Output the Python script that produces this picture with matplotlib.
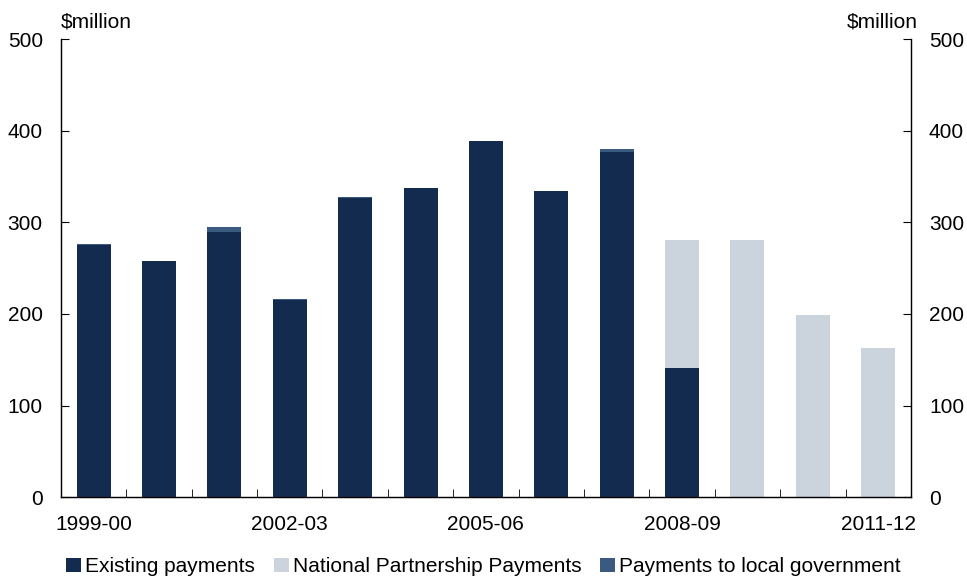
import numpy as np
import matplotlib.pyplot as plt

plt.rcParams['font.family'] = ['Liberation Sans', 'DejaVu Sans']

# data ($million)
years = ['1999-00', '2000-01', '2001-02', '2002-03', '2003-04', '2004-05', '2005-06',
         '2006-07', '2007-08', '2008-09', '2009-10', '2010-11', '2011-12']
existing = [275, 258, 289, 215, 327, 338, 389, 334, 377, 141, 0, 0, 0]
national = [0, 0, 0, 0, 0, 0, 0, 0, 0, 140, 281, 199, 163]
local_gov = [1, 0, 6, 1, 1, 0, 0, 0, 3, 0, 0, 0, 0]

c_exist = '#142B50'
c_np = '#CBD3DD'
c_local = '#3A5A80'

x = np.arange(len(years))
existing = np.array(existing)
national = np.array(national)
local_gov = np.array(local_gov)

fig = plt.figure(figsize=(9.67, 5.76), dpi=100)
ax = fig.add_axes([0.063, 0.137, 0.879, 0.795])

w = 0.52
ax.bar(x, existing, w, color=c_exist, label='Existing payments')
ax.bar(x, national, w, bottom=existing, color=c_np, label='National Partnership Payments')
ax.bar(x, local_gov, w, bottom=existing + national, color=c_local, label='Payments to local government')

ax.set_xlim(-0.5, 12.5)
ax.set_ylim(0, 500)
ax.set_yticks(np.arange(0, 501, 100))
ax.set_xticks(x[::3])
ax.set_xticklabels(years[::3])
ax.set_xticks(np.arange(-0.5, 12.6, 1), minor=True)

ax.spines['top'].set_visible(False)
for s in ['left', 'right', 'bottom']:
    ax.spines[s].set_color('#222222')
    ax.spines[s].set_linewidth(1)

ax.tick_params(axis='y', direction='in', length=6, labelsize=15, left=True, right=False, pad=13)
ax.tick_params(axis='x', which='major', length=0, labelsize=15, pad=13)
ax.tick_params(axis='x', which='minor', direction='in', length=6)

ax2 = ax.twinx()
ax2.set_ylim(0, 500)
ax2.set_yticks(np.arange(0, 501, 100))
ax2.tick_params(axis='y', direction='in', length=6, labelsize=15, pad=13)
ax2.spines['top'].set_visible(False)

fig.text(0.063, 0.962, r'\$million', fontsize=15, ha='left', va='center')
fig.text(0.949, 0.962, r'\$million', fontsize=15, ha='right', va='center')

fig.legend(loc='lower center', bbox_to_anchor=(0.5, -0.033), ncol=3, frameon=False,
           fontsize=15, handlelength=0.72, handleheight=0.72, handletextpad=0.2,
           columnspacing=0.9)

fig.savefig('out.png', dpi=100)
